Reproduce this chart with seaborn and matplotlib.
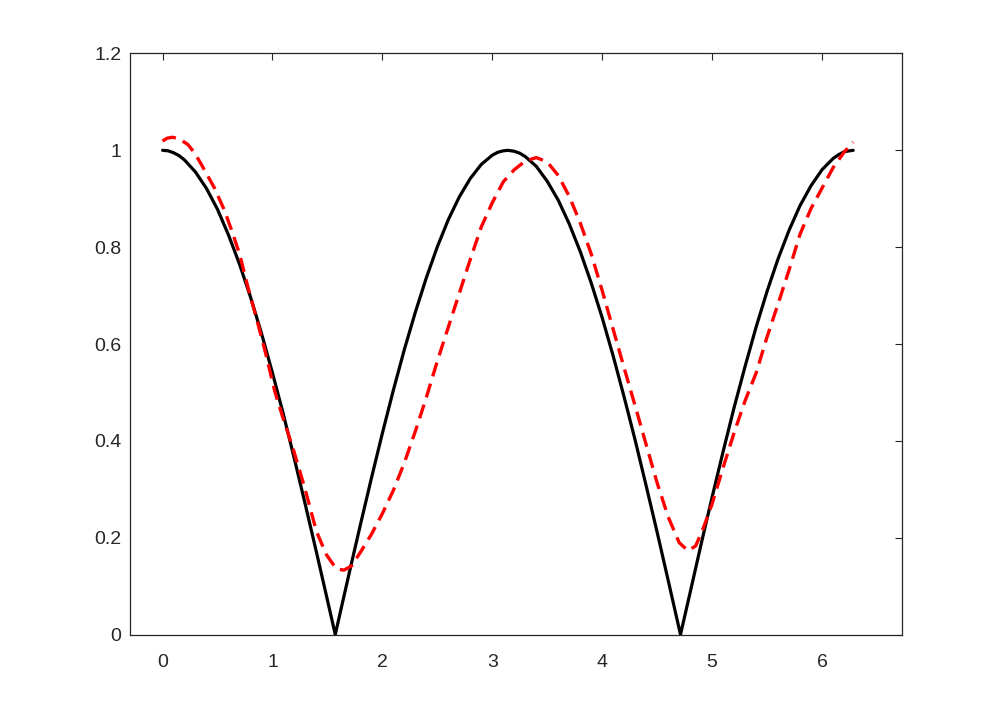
import numpy as np
import pandas as pd
import seaborn as sns
from matplotlib import pyplot as plt

# black curve (exact |cos x| look)
x_black = [0.0, 0.05, 0.1, 0.15, 0.2, 0.3, 0.4, 0.5, 0.6, 0.7, 0.8, 0.9, 1.0, 1.1, 1.2, 1.3, 1.4, 1.5, 1.571,
           1.6, 1.7, 1.8, 1.9, 2.0, 2.1, 2.2, 2.3, 2.4, 2.5, 2.6, 2.7, 2.8, 2.9, 3.0, 3.05, 3.1, 3.142,
           3.2, 3.25, 3.3, 3.4, 3.5, 3.6, 3.7, 3.8, 3.9, 4.0, 4.1, 4.2, 4.3, 4.4, 4.5, 4.6, 4.7, 4.712,
           4.8, 4.9, 5.0, 5.1, 5.2, 5.3, 5.4, 5.5, 5.6, 5.7, 5.8, 5.9, 6.0, 6.1, 6.15, 6.2, 6.25, 6.283]
y_black = [1.000, 0.999, 0.995, 0.989, 0.980, 0.955, 0.921, 0.878, 0.825, 0.765, 0.697, 0.622, 0.540, 0.454, 0.362, 0.267, 0.170, 0.071, 0.000,
           0.029, 0.129, 0.227, 0.323, 0.416, 0.505, 0.589, 0.666, 0.737, 0.801, 0.857, 0.904, 0.942, 0.971, 0.990, 0.996, 0.999, 1.000,
           0.998, 0.994, 0.987, 0.967, 0.936, 0.897, 0.848, 0.791, 0.726, 0.654, 0.575, 0.490, 0.401, 0.307, 0.211, 0.112, 0.012, 0.000,
           0.087, 0.187, 0.284, 0.378, 0.469, 0.554, 0.635, 0.709, 0.776, 0.835, 0.886, 0.927, 0.960, 0.983, 0.991, 0.997, 0.999, 1.000]

# red dashed approximation
x_red = [0.0, 0.04, 0.09, 0.15, 0.23, 0.29, 0.35, 0.47, 0.565, 0.64, 0.70, 0.777, 0.853, 0.93, 1.02, 1.10, 1.186, 1.293, 1.40,
         1.49, 1.58, 1.65, 1.72, 1.80, 1.90, 2.0, 2.1, 2.2, 2.3, 2.4, 2.5, 2.6, 2.7, 2.8, 2.9, 3.0, 3.1,
         3.2, 3.3, 3.4, 3.5, 3.6, 3.7, 3.8, 3.9, 4.0, 4.1, 4.2, 4.3, 4.4, 4.5, 4.6, 4.7, 4.78, 4.85,
         4.92, 5.0, 5.1, 5.2, 5.3, 5.4, 5.5, 5.6, 5.7, 5.8, 5.9, 6.0, 6.1, 6.2, 6.283]
y_red = [1.019, 1.025, 1.027, 1.024, 1.012, 0.995, 0.972, 0.923, 0.875, 0.827, 0.786, 0.717, 0.654, 0.588, 0.503, 0.444, 0.385, 0.303, 0.213,
         0.165, 0.136, 0.133, 0.142, 0.170, 0.207, 0.250, 0.298, 0.355, 0.420, 0.490, 0.565, 0.635, 0.705, 0.775, 0.842, 0.892, 0.935,
         0.960, 0.978, 0.985, 0.976, 0.948, 0.905, 0.850, 0.786, 0.710, 0.630, 0.550, 0.472, 0.392, 0.313, 0.243, 0.190, 0.173, 0.183,
         0.220, 0.270, 0.345, 0.417, 0.483, 0.540, 0.615, 0.683, 0.753, 0.827, 0.880, 0.922, 0.964, 0.996, 1.017]

sns.set_theme(style='white')
plt.rcParams['font.family'] = ['Liberation Sans', 'DejaVu Sans']
edge = '#262626'

fig = plt.figure(figsize=(9.97, 7.13), dpi=100)
ax = fig.add_axes([0.13, 0.11, 0.775, 0.815])

sns.lineplot(x=x_black, y=y_black, color='black', linewidth=2.3, sort=False, estimator=None, ax=ax,
             solid_joinstyle='round')
sns.lineplot(x=x_red, y=y_red, color='red', linewidth=2.4, linestyle=(0, (4.3, 2.3)),
             sort=False, estimator=None, ax=ax)

ax.set_xlim(-0.3, 6.73)
ax.set_ylim(0, 1.2)
ax.set_xticks(range(0, 7))
ax.set_yticks([0, 0.2, 0.4, 0.6, 0.8, 1, 1.2])
ax.set_yticklabels(['0', '0.2', '0.4', '0.6', '0.8', '1', '1.2'])
ax.tick_params(direction='in', length=5, width=0.8, color=edge, labelcolor=edge,
               labelsize=14, top=True, right=True)
ax.tick_params(axis='x', pad=14)
ax.tick_params(axis='y', pad=6)
for s in ax.spines.values():
    s.set_visible(True)
    s.set_color(edge)
    s.set_linewidth(0.9)

fig.savefig('out.png', dpi=100, facecolor='white')
